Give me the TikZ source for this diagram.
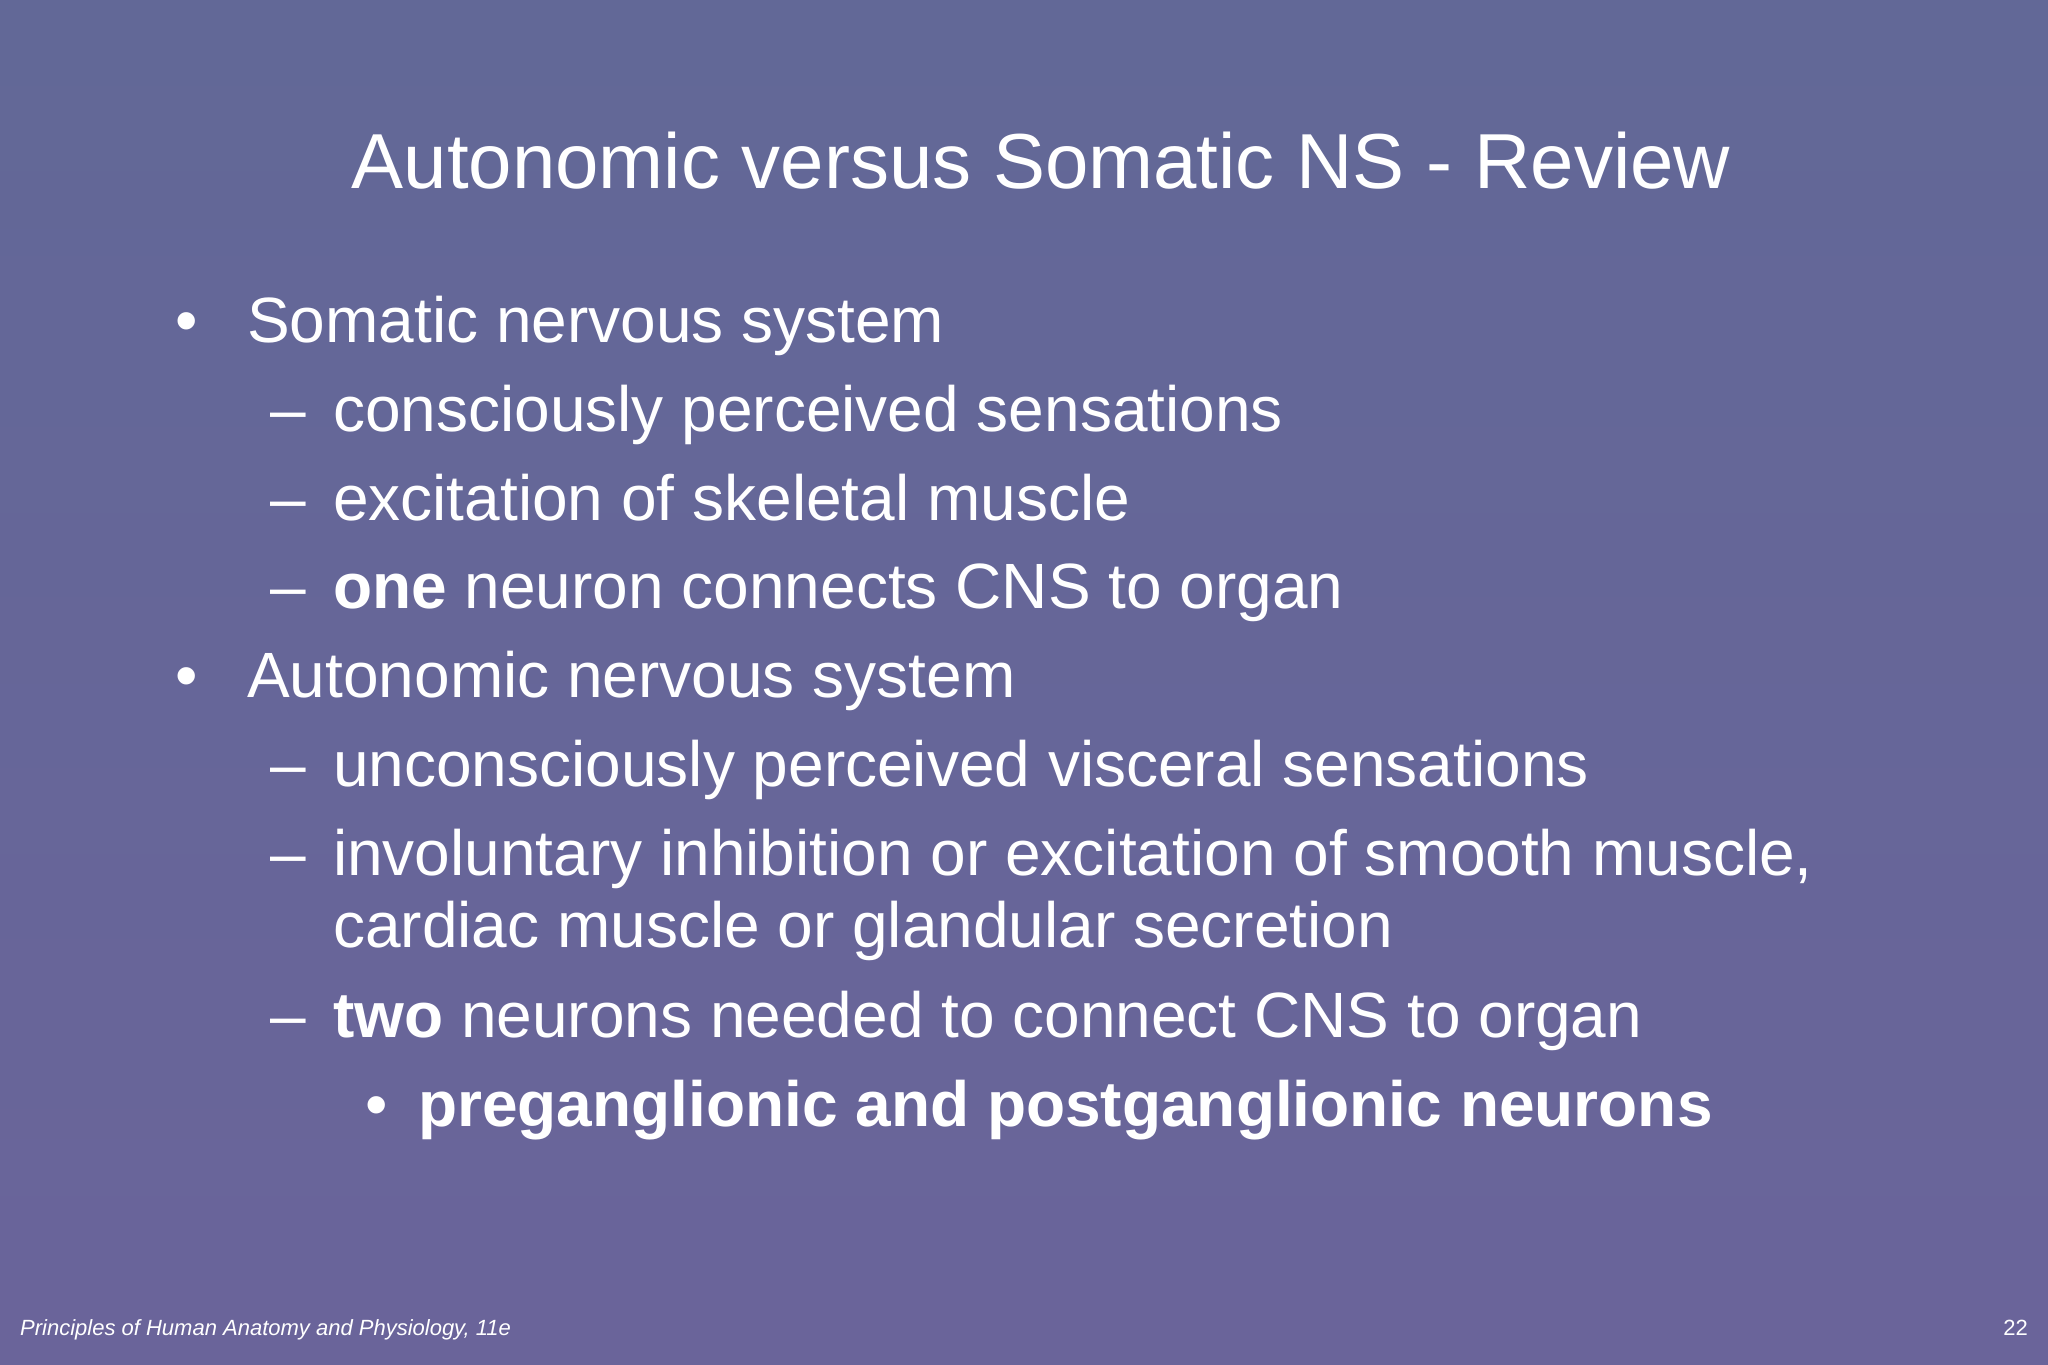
\documentclass[tikz,border=0pt]{standalone}
\usepackage{fontspec}
\setmainfont{Liberation Sans}
\definecolor{bgtop}{HTML}{626897}
\definecolor{bgbot}{HTML}{6A649A}
\begin{document}
\begin{tikzpicture}[x=1pt,y=-1pt,
  txt/.style={anchor=base west,inner sep=0pt,text=white,font=\fontsize{64}{70}\selectfont},
  foot/.style={inner sep=0pt,text=white,font=\fontsize{22}{24}\selectfont\itshape}]
\shade[top color=bgtop,bottom color=bgbot] (0,0) rectangle (2048,1365);
\useasboundingbox (0,0) rectangle (2048,1365);
\node[inner sep=0pt,text=white,font=\fontsize{78}{84}\selectfont,anchor=base] (title) at (1041,188) {Autonomic versus Somatic NS - Review};
\node[txt] (b1) at (175,342) {•};
\node[txt] (t1) at (247,342) {Somatic nervous system};
\node[txt] (d1) at (270,431) {–};
\node[txt] (t2) at (333,431) {consciously perceived sensations};
\node[txt] (d2) at (270,520) {–};
\node[txt] (t3) at (333,520) {excitation of skeletal muscle};
\node[txt] (d3) at (270,608) {–};
\node[txt] (t4) at (333,608) {\textbf{one} neuron connects CNS to organ};
\node[txt] (b2) at (175,697) {•};
\node[txt] (t5) at (247,697) {Autonomic nervous system};
\node[txt] (d4) at (270,786) {–};
\node[txt] (t6) at (333,786) {unconsciously perceived visceral sensations};
\node[txt] (d5) at (270,875) {–};
\node[txt] (t7) at (333,875) {involuntary inhibition or excitation of smooth muscle,};
\node[txt] (t8) at (333,947) {cardiac muscle or glandular secretion};
\node[txt] (d6) at (270,1037) {–};
\node[txt] (t9) at (333,1037) {\textbf{two} neurons needed to connect CNS to organ};
\node[txt] (b3) at (365,1126) {•};
\node[txt] (t10) at (418,1126) {\textbf{preganglionic and postganglionic neurons}};
\node[foot,anchor=base west] (f1) at (20,1335) {Principles of Human Anatomy and Physiology, 11e};
\node[foot,anchor=base east,font=\fontsize{22}{24}\selectfont] (f2) at (2028,1335) {22};
\end{tikzpicture}
\end{document}
